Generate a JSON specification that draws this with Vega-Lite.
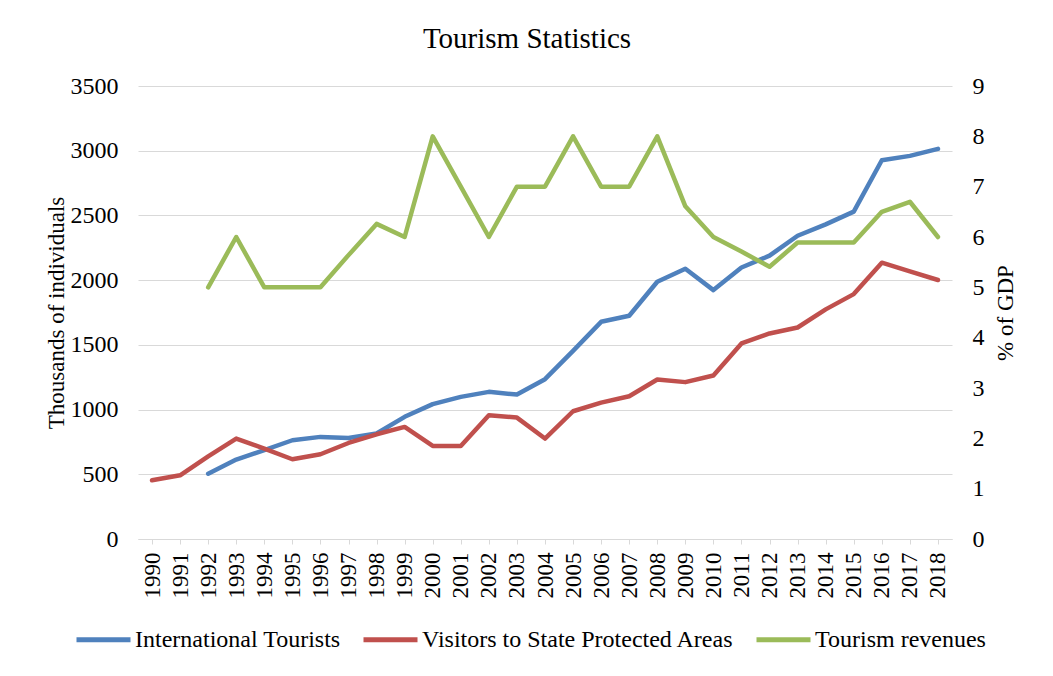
{
  "$schema": "https://vega.github.io/schema/vega-lite/v6.json",
  "width": 814,
  "height": 453,
  "autosize": {"type": "none"},
  "padding": {"left": 138, "top": 86, "right": 101, "bottom": 137},
  "background": "white",
  "title": {"text": "Tourism Statistics", "fontSize": 29, "font": "Liberation Serif", "fontWeight": "normal", "color": "#000000", "anchor": "middle", "dx": -18, "baseline": "alphabetic", "offset": -3},
  "config": {
    "font": "Liberation Serif",
    "view": {"stroke": null},
    "axis": {"labelFont": "Liberation Serif", "titleFont": "Liberation Serif", "labelColor": "#000000", "titleColor": "#000000", "titleFontWeight": "normal"}
  },
  "data": {"values": [
    {"year": 1992, "series": "International Tourists", "value": 505},
    {"year": 1993, "series": "International Tourists", "value": 614},
    {"year": 1994, "series": "International Tourists", "value": 686},
    {"year": 1995, "series": "International Tourists", "value": 763},
    {"year": 1996, "series": "International Tourists", "value": 789},
    {"year": 1997, "series": "International Tourists", "value": 781},
    {"year": 1998, "series": "International Tourists", "value": 815},
    {"year": 1999, "series": "International Tourists", "value": 944},
    {"year": 2000, "series": "International Tourists", "value": 1042},
    {"year": 2001, "series": "International Tourists", "value": 1098},
    {"year": 2002, "series": "International Tourists", "value": 1137},
    {"year": 2003, "series": "International Tourists", "value": 1116},
    {"year": 2004, "series": "International Tourists", "value": 1235},
    {"year": 2005, "series": "International Tourists", "value": 1454},
    {"year": 2006, "series": "International Tourists", "value": 1678},
    {"year": 2007, "series": "International Tourists", "value": 1725},
    {"year": 2008, "series": "International Tourists", "value": 1988},
    {"year": 2009, "series": "International Tourists", "value": 2088},
    {"year": 2010, "series": "International Tourists", "value": 1923},
    {"year": 2011, "series": "International Tourists", "value": 2098},
    {"year": 2012, "series": "International Tourists", "value": 2189},
    {"year": 2013, "series": "International Tourists", "value": 2343},
    {"year": 2014, "series": "International Tourists", "value": 2431},
    {"year": 2015, "series": "International Tourists", "value": 2529},
    {"year": 2016, "series": "International Tourists", "value": 2926},
    {"year": 2017, "series": "International Tourists", "value": 2960},
    {"year": 2018, "series": "International Tourists", "value": 3014},
    {"year": 1990, "series": "Visitors to State Protected Areas", "value": 454},
    {"year": 1991, "series": "Visitors to State Protected Areas", "value": 492},
    {"year": 1992, "series": "Visitors to State Protected Areas", "value": 639},
    {"year": 1993, "series": "Visitors to State Protected Areas", "value": 776},
    {"year": 1994, "series": "Visitors to State Protected Areas", "value": 699},
    {"year": 1995, "series": "Visitors to State Protected Areas", "value": 616},
    {"year": 1996, "series": "Visitors to State Protected Areas", "value": 655},
    {"year": 1997, "series": "Visitors to State Protected Areas", "value": 742},
    {"year": 1998, "series": "Visitors to State Protected Areas", "value": 809},
    {"year": 1999, "series": "Visitors to State Protected Areas", "value": 866},
    {"year": 2000, "series": "Visitors to State Protected Areas", "value": 719},
    {"year": 2001, "series": "Visitors to State Protected Areas", "value": 719},
    {"year": 2002, "series": "Visitors to State Protected Areas", "value": 956},
    {"year": 2003, "series": "Visitors to State Protected Areas", "value": 938},
    {"year": 2004, "series": "Visitors to State Protected Areas", "value": 776},
    {"year": 2005, "series": "Visitors to State Protected Areas", "value": 987},
    {"year": 2006, "series": "Visitors to State Protected Areas", "value": 1054},
    {"year": 2007, "series": "Visitors to State Protected Areas", "value": 1103},
    {"year": 2008, "series": "Visitors to State Protected Areas", "value": 1232},
    {"year": 2009, "series": "Visitors to State Protected Areas", "value": 1212},
    {"year": 2010, "series": "Visitors to State Protected Areas", "value": 1263},
    {"year": 2011, "series": "Visitors to State Protected Areas", "value": 1511},
    {"year": 2012, "series": "Visitors to State Protected Areas", "value": 1588},
    {"year": 2013, "series": "Visitors to State Protected Areas", "value": 1634},
    {"year": 2014, "series": "Visitors to State Protected Areas", "value": 1774},
    {"year": 2015, "series": "Visitors to State Protected Areas", "value": 1892},
    {"year": 2016, "series": "Visitors to State Protected Areas", "value": 2135},
    {"year": 2017, "series": "Visitors to State Protected Areas", "value": 2068},
    {"year": 2018, "series": "Visitors to State Protected Areas", "value": 2001},
    {"year": 1992, "series": "Tourism revenues", "value": 5},
    {"year": 1993, "series": "Tourism revenues", "value": 6},
    {"year": 1994, "series": "Tourism revenues", "value": 5},
    {"year": 1995, "series": "Tourism revenues", "value": 5},
    {"year": 1996, "series": "Tourism revenues", "value": 5},
    {"year": 1997, "series": "Tourism revenues", "value": 5.64},
    {"year": 1998, "series": "Tourism revenues", "value": 6.26},
    {"year": 1999, "series": "Tourism revenues", "value": 6},
    {"year": 2000, "series": "Tourism revenues", "value": 8},
    {"year": 2001, "series": "Tourism revenues", "value": 7},
    {"year": 2002, "series": "Tourism revenues", "value": 6},
    {"year": 2003, "series": "Tourism revenues", "value": 7},
    {"year": 2004, "series": "Tourism revenues", "value": 7},
    {"year": 2005, "series": "Tourism revenues", "value": 8},
    {"year": 2006, "series": "Tourism revenues", "value": 7},
    {"year": 2007, "series": "Tourism revenues", "value": 7},
    {"year": 2008, "series": "Tourism revenues", "value": 8},
    {"year": 2009, "series": "Tourism revenues", "value": 6.61},
    {"year": 2010, "series": "Tourism revenues", "value": 6},
    {"year": 2011, "series": "Tourism revenues", "value": 5.71},
    {"year": 2012, "series": "Tourism revenues", "value": 5.41},
    {"year": 2013, "series": "Tourism revenues", "value": 5.89},
    {"year": 2014, "series": "Tourism revenues", "value": 5.89},
    {"year": 2015, "series": "Tourism revenues", "value": 5.89},
    {"year": 2016, "series": "Tourism revenues", "value": 6.5},
    {"year": 2017, "series": "Tourism revenues", "value": 6.7},
    {"year": 2018, "series": "Tourism revenues", "value": 6}
  ]},
  "encoding": {
    "x": {
      "field": "year", "type": "ordinal", "title": null,
      "scale": {"type": "point", "padding": 0.5},
      "axis": {"labelAngle": -90, "labelFontSize": 23, "labelPadding": 8, "tickSize": 5, "tickColor": "#d9d9d9", "domainColor": "#d9d9d9", "domainWidth": 1, "grid": false}
    },
    "color": {
      "field": "series", "type": "nominal",
      "scale": {"domain": ["International Tourists", "Visitors to State Protected Areas", "Tourism revenues"], "range": ["#4f81bd", "#c0504d", "#9bbb59"]},
      "legend": {"orient": "none", "legendX": -64, "legendY": 524, "direction": "horizontal", "title": null, "symbolType": "stroke", "symbolSize": 2916, "symbolStrokeWidth": 5, "labelFontSize": 24, "labelFont": "Liberation Serif", "labelColor": "#000000", "columnPadding": 12, "labelOffset": 2, "labelLimit": 500}
    }
  },
  "layer": [
    {
      "transform": [{"filter": "datum.series != 'Tourism revenues'"}],
      "mark": {"type": "line", "strokeWidth": 4.5, "strokeCap": "round", "strokeJoin": "round"},
      "encoding": {
        "y": {
          "field": "value", "type": "quantitative", "title": "Thousands of individuals",
          "scale": {"domain": [0, 3500], "nice": false, "zero": true},
          "axis": {"orient": "left", "values": [0, 500, 1000, 1500, 2000, 2500, 3000, 3500], "format": "d", "labelFontSize": 24, "titleFontSize": 23, "labelPadding": 20, "ticks": false, "domain": false, "grid": true, "gridColor": "#d9d9d9", "gridWidth": 1, "titleX": -82, "titleBaseline": "middle", "titleAngle": -90}
        }
      }
    },
    {
      "transform": [{"filter": "datum.series == 'Tourism revenues'"}],
      "mark": {"type": "line", "strokeWidth": 4.5, "strokeCap": "round", "strokeJoin": "round"},
      "encoding": {
        "y": {
          "field": "value", "type": "quantitative", "title": "% of GDP",
          "scale": {"domain": [0, 9], "nice": false, "zero": true},
          "axis": {"orient": "right", "values": [0, 1, 2, 3, 4, 5, 6, 7, 8, 9], "format": "d", "labelFontSize": 24, "titleFontSize": 23, "labelPadding": 20, "ticks": false, "domain": false, "grid": false, "titleAngle": -90, "titleX": 53, "titleBaseline": "middle"}
        }
      }
    }
  ],
  "resolve": {"scale": {"y": "independent"}}
}
